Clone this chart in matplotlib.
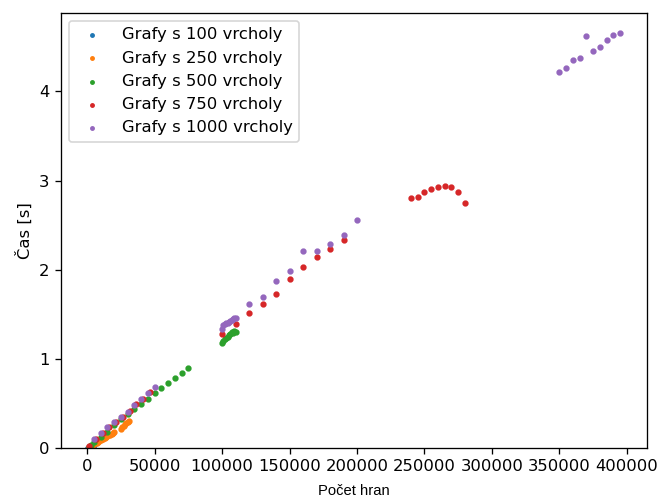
import numpy as np
import matplotlib
matplotlib.use("Agg")
from matplotlib import pyplot as plt

# Grafy s 100 vrcholy
x_100 = [300, 600, 1000, 1500, 2000, 2500, 3000, 3500, 4000, 4500, 4900]
y_100 = [0.003, 0.005, 0.008, 0.011, 0.015, 0.019, 0.023, 0.027, 0.031, 0.035, 0.039]

# Grafy s 250 vrcholy
x_250 = [1000, 2000, 3000, 4000, 5000, 6000, 7000, 8000, 9000, 10000,
         11000, 12000, 13000, 14000, 15000, 16000, 17000, 18000, 19000, 20000,
         25000, 26000, 27000, 28000, 29000, 30000, 31000]
y_250 = [0.008, 0.017, 0.026, 0.034, 0.043, 0.051, 0.060, 0.069, 0.078, 0.087,
         0.096, 0.105, 0.114, 0.123, 0.132, 0.141, 0.150, 0.160, 0.170, 0.180,
         0.215, 0.235, 0.250, 0.265, 0.280, 0.295, 0.305]

# Grafy s 500 vrcholy
x_500 = [1000, 2500, 5000, 10000, 15000, 20000, 25000, 30000, 35000, 40000,
         45000, 50000, 55000, 60000, 65000, 70000, 75000,
         100000, 101000, 102000, 103000, 104000, 105000, 106000, 107000,
         108000, 109000, 110000]
y_500 = [0.015, 0.035, 0.065, 0.125, 0.185, 0.255, 0.322, 0.380, 0.441, 0.497,
         0.553, 0.617, 0.677, 0.733, 0.790, 0.838, 0.900,
         1.18, 1.20, 1.22, 1.23, 1.25, 1.27, 1.28, 1.30, 1.29, 1.31, 1.30]

# Grafy s 750 vrcholy
x_750 = [1500, 6500, 11500, 16500, 21500, 26500, 31500, 36500, 41500, 46500,
         100000, 110000,
         120000, 130000, 140000, 150000, 160000, 170000, 180000, 190000,
         240000, 245000, 250000, 255000, 260000, 265000, 270000, 275000, 280000]
y_750 = [0.025, 0.100, 0.165, 0.230, 0.290, 0.350, 0.415, 0.490, 0.550, 0.628,
         1.28, 1.39,
         1.51, 1.62, 1.73, 1.89, 2.03, 2.14, 2.23, 2.33,
         2.80, 2.82, 2.87, 2.90, 2.93, 2.94, 2.93, 2.87, 2.75]

# Grafy s 1000 vrcholy
x_1000 = [5000, 10000, 15000, 20000, 25000, 30000, 35000, 40000, 45000, 50000,
          100000, 101000, 102000, 103000, 104000, 105000, 106000, 107000,
          108000, 109000, 110000,
          120000, 130000, 140000, 150000, 160000, 170000, 180000, 190000, 200000,
          350000, 355000, 360000, 365000, 370000, 375000, 380000, 385000,
          390000, 395000]
y_1000 = [0.105, 0.165, 0.236, 0.290, 0.344, 0.408, 0.479, 0.550, 0.620, 0.688,
          1.33, 1.38, 1.39, 1.40, 1.40, 1.41, 1.43, 1.44, 1.45, 1.46, 1.46,
          1.62, 1.69, 1.87, 1.98, 2.21, 2.21, 2.29, 2.39, 2.56,
          4.22, 4.26, 4.35, 4.37, 4.62, 4.45, 4.50, 4.58, 4.63, 4.65]

series = [
    (x_100, y_100, "Grafy s 100 vrcholy"),
    (x_250, y_250, "Grafy s 250 vrcholy"),
    (x_500, y_500, "Grafy s 500 vrcholy"),
    (x_750, y_750, "Grafy s 750 vrcholy"),
    (x_1000, y_1000, "Grafy s 1000 vrcholy"),
]

DPI = 118
fig = plt.figure(figsize=(657 / DPI, 502 / DPI), dpi=DPI)
ax = fig.add_axes([61 / 657, 54 / 502, 585.7 / 657, 435.3 / 502])

for xs, ys, label in series:
    ax.scatter(xs, ys, s=8, label=label)

ax.set_ylim(bottom=0)
ax.set_ylabel("Čas [s]")
ax.set_xlabel("Počet hran", fontfamily="Liberation Sans", fontsize=9, labelpad=6)
ax.legend(loc="upper left", markerscale=0.7)

fig.savefig("out.png", dpi=DPI)
